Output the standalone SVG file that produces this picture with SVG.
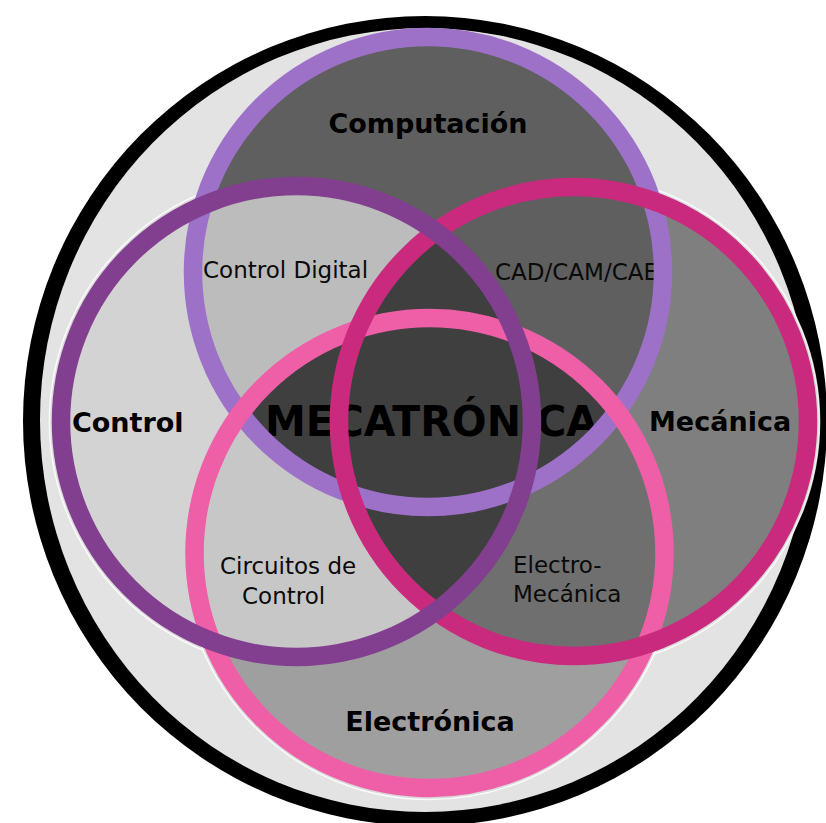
<svg xmlns="http://www.w3.org/2000/svg" width="826" height="823" viewBox="0 0 826 823">
<style>
.ring{fill:none;stroke-width:18.5}
.halo{fill:#d9d9d9;stroke:#ffffff;stroke-width:1.6;stroke-opacity:0.85}
.big{font-family:"DejaVu Sans",sans-serif;font-weight:bold;font-size:27px;fill:#000}
.small{font-family:"DejaVu Sans",sans-serif;font-size:23px;fill:#0a0a0a}
.title{font-family:"DejaVu Sans",sans-serif;font-weight:bold;font-size:43px;fill:#000}
</style>
<defs>
<clipPath id="cComp"><circle cx="428" cy="272" r="235"/></clipPath>
<clipPath id="cCtrl"><circle cx="296.5" cy="421.5" r="235.5"/></clipPath>
<clipPath id="cMec"><circle cx="573.5" cy="421.5" r="234.5"/></clipPath>
<clipPath id="cElec"><circle cx="429.5" cy="553" r="235"/></clipPath>
</defs>
<rect width="826" height="823" fill="#ffffff"/>
<g id="background">
<ellipse cx="425" cy="421" rx="402" ry="405" fill="#000"/>
<ellipse cx="425" cy="420" rx="385" ry="392" fill="#e3e3e3"/>
<circle class="halo" cx="296.5" cy="421.5" r="247"/>
<circle class="halo" cx="573.5" cy="421.5" r="246"/>
<circle class="halo" cx="429.5" cy="553" r="246.5"/>
</g>
<g id="regions">
<circle cx="296.5" cy="421.5" r="237" fill="#d3d3d3"/>
<circle cx="573.5" cy="421.5" r="236" fill="#7f7f7f"/>
<circle cx="429.5" cy="553" r="237" fill="#9f9f9f"/>
<circle cx="428" cy="272" r="236" fill="#5f5f5f"/>
<circle cx="428" cy="272" r="235" fill="#bcbcbc" clip-path="url(#cCtrl)"/>
<circle cx="429.5" cy="553" r="235" fill="#c7c7c7" clip-path="url(#cCtrl)"/>
<circle cx="429.5" cy="553" r="235" fill="#6f6f6f" clip-path="url(#cMec)"/>
<circle cx="428" cy="272" r="235" fill="#3f3f3f" clip-path="url(#cElec)"/>
<circle cx="296.5" cy="421.5" r="235.5" fill="#3f3f3f" clip-path="url(#cMec)"/>
</g>
<g id="labels">
<text class="title" x="265" y="436" textLength="333" lengthAdjust="spacingAndGlyphs">MECATRÓNICA</text>
<text class="small" x="203" y="278">Control Digital</text>
<text class="small" x="495" y="280">CAD/CAM/CAE</text>
<text class="small" x="220" y="574">Circuitos de</text>
<text class="small" x="242" y="604">Control</text>
<text class="small" x="513" y="573">Electro-</text>
<text class="small" x="513" y="602">Mecánica</text>
</g>
<g id="node-computacion">
<circle class="ring" cx="428" cy="272" r="235" stroke="#9e71c9"/>
<text class="big" x="428" y="133" text-anchor="middle">Computación</text>
</g>
<g id="node-electronica">
<circle class="ring" cx="429.5" cy="553" r="235" stroke="#ef5fa7"/>
<text class="big" x="430" y="731" text-anchor="middle">Electrónica</text>
</g>
<g id="node-mecanica">
<circle class="ring" cx="573.5" cy="421.5" r="234.5" stroke="#c92a7d"/>
<text class="big" x="649" y="431">Mecánica</text>
</g>
<g id="node-control">
<circle class="ring" cx="296.5" cy="421.5" r="235.5" stroke="#833f8f"/>
<text class="big" x="72" y="432">Control</text>
</g>
</svg>
